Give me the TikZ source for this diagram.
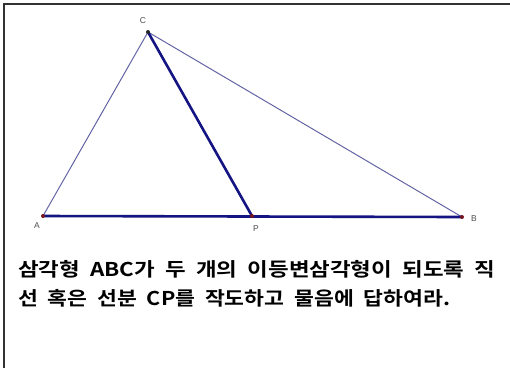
\documentclass[tikz,border=0pt]{standalone}
\usepackage{fontspec}
\usepackage{graphicx}
\setmainfont{Liberation Sans}
\newfontfamily\kr{Noto Sans CJK KR}[BoldFont=* Bold]
\definecolor{thinline}{RGB}{100,100,165}
\definecolor{thickline}{RGB}{20,20,130}
\definecolor{ptred}{RGB}{120,20,30}
\definecolor{frame}{RGB}{50,50,50}
\begin{document}
\begin{tikzpicture}[x=1pt,y=-1pt,
  pt/.style={circle,fill=ptred,inner sep=0pt,minimum size=4pt},
  lab/.style={font=\fontsize{8.5}{9}\selectfont,text=black!70,inner sep=0pt},
  thin/.style={draw=thinline,line width=1pt},
  thick/.style={draw=thickline,line width=2.6pt},
  txt/.style={font=\kr\bfseries\fontsize{19}{21}\selectfont,anchor=west,inner sep=0pt}]
\useasboundingbox (0,0) rectangle (510,368);
\draw[frame,line width=2pt] (3.5,368) -- (3.5,3.5) -- (510,3.5);
\coordinate (A) at (43,216);
\coordinate (B) at (462,217);
\coordinate (C) at (148,32);
\coordinate (P) at (252,216);
\draw[thin] (A) -- (C) -- (B);
\draw[thick] (A) -- (B);
\draw[thick] (C) -- (P);
\node[pt] (pA) at (A) {};
\node[pt] (pB) at (B) {};
\node[pt,fill=black!85] (pC) at (C) {};
\node[pt] (pP) at (P) {};
\node[lab] (lA) at (37,226) {A};
\node[lab] (lB) at (474,219) {B};
\node[lab] (lC) at (143,21) {C};
\node[lab] (lP) at (256,229) {P};
\node[txt] (t1) at (18,269) {\resizebox{477pt}{\height}{삼각형\ \ ABC가\ \ 두\ \ 개의\ \ 이등변삼각형이\ \ 되도록\ \ 직}};
\node[txt] (t2) at (18,298) {\resizebox{432pt}{\height}{선\ \ 혹은\ \ 선분\ \ CP를\ \ 작도하고\ \ 물음에\ \ 답하여라.}};
\end{tikzpicture}
\end{document}
